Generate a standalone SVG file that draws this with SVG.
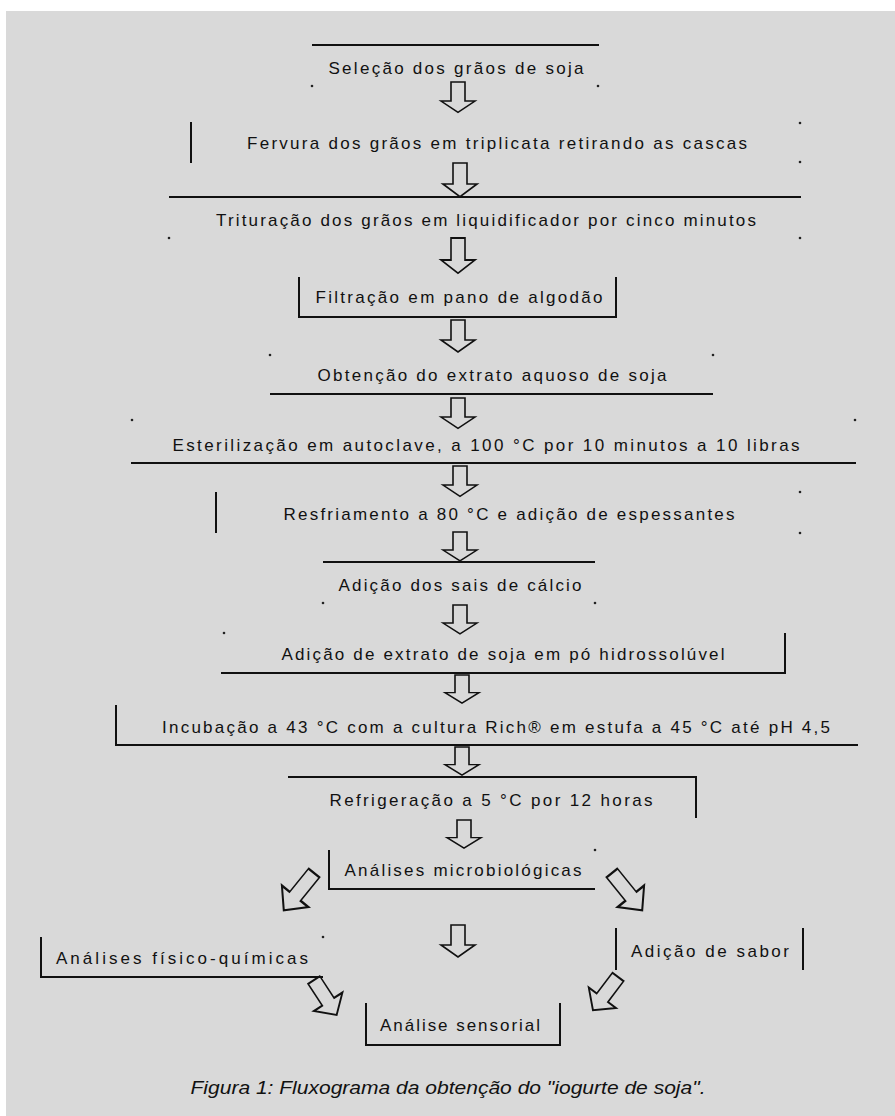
<svg xmlns="http://www.w3.org/2000/svg" xmlns:xlink="http://www.w3.org/1999/xlink" width="895" height="1116" viewBox="0 0 895 1116">
<style>
.t{font-family:"Liberation Sans",Arial,sans-serif;font-size:17px;fill:#111;text-anchor:middle;dominant-baseline:central}
.ln{stroke:#111;stroke-width:2;fill:none}
.ar{stroke:#111;stroke-width:1.6;fill:none;stroke-linejoin:miter}
.cap{font-family:"Liberation Sans",Arial,sans-serif;font-size:19px;font-style:italic;fill:#111;text-anchor:middle}
.d{fill:#222}
</style>
<defs>
<path id="dn" d="M-7,0 H7 V20 H17 L0,32 L-17,20 H-7 Z"/>
</defs>
<rect x="0" y="0" width="895" height="1116" fill="#ffffff"/>
<rect x="6" y="11" width="889" height="1105" fill="#d9d9d9"/>

<g id="n1"><line class="ln" x1="312" y1="45" x2="599" y2="45"/><text class="t" x="456" y="68" textLength="255" lengthAdjust="spacing">Seleção dos grãos de soja</text></g>
<g id="n2"><line class="ln" x1="191" y1="122" x2="191" y2="163"/><text class="t" x="497" y="143" textLength="500" lengthAdjust="spacing">Fervura dos grãos em triplicata retirando as cascas</text></g>
<g id="n3"><line class="ln" x1="169" y1="197" x2="801" y2="197"/><text class="t" x="486" y="220" textLength="540" lengthAdjust="spacing">Trituração dos grãos em liquidificador por cinco minutos</text></g>
<g id="n4"><path class="ln" d="M299,277 V317 H616 V277"/><text class="t" x="459" y="297" textLength="287" lengthAdjust="spacing">Filtração em pano de algodão</text></g>
<g id="n5"><line class="ln" x1="270" y1="394" x2="713" y2="394"/><text class="t" x="492" y="375" textLength="349" lengthAdjust="spacing">Obtenção do extrato aquoso de soja</text></g>
<g id="n6"><line class="ln" x1="131" y1="463" x2="856" y2="463"/><text class="t" x="486" y="445" textLength="627" lengthAdjust="spacing">Esterilização em autoclave, a 100 °C por 10 minutos a 10 libras</text></g>
<g id="n7"><line class="ln" x1="216" y1="492" x2="216" y2="533"/><text class="t" x="509" y="514" textLength="451" lengthAdjust="spacing">Resfriamento a 80 °C e adição de espessantes</text></g>
<g id="n8"><line class="ln" x1="323" y1="562" x2="595" y2="562"/><text class="t" x="460" y="585" textLength="243" lengthAdjust="spacing">Adição dos sais de cálcio</text></g>
<g id="n9"><path class="ln" d="M785,633 V673 H221"/><text class="t" x="503" y="654" textLength="443" lengthAdjust="spacing">Adição de extrato de soja em pó hidrossolúvel</text></g>
<g id="n10"><path class="ln" d="M116,705 V745 H858"/><text class="t" x="496" y="727" textLength="668" lengthAdjust="spacing">Incubação a 43 °C com a cultura Rich® em estufa a 45 °C até pH 4,5</text></g>
<g id="n11"><path class="ln" d="M288,777 H696 V818"/><text class="t" x="491" y="800" textLength="323" lengthAdjust="spacing">Refrigeração a 5 °C por 12 horas</text></g>
<g id="n12"><path class="ln" d="M329,850 V889 H595"/><text class="t" x="463" y="870" textLength="237" lengthAdjust="spacing">Análises microbiológicas</text></g>
<g id="n13"><path class="ln" d="M41,937 V977 H323"/><text class="t" x="182" y="958" textLength="252" lengthAdjust="spacing">Análises físico-químicas</text></g>
<g id="n14"><line class="ln" x1="616" y1="928" x2="616" y2="970"/><line class="ln" x1="803" y1="928" x2="803" y2="970"/><text class="t" x="710" y="951" textLength="158" lengthAdjust="spacing">Adição de sabor</text></g>
<g id="n15"><path class="ln" d="M366,1003 V1045 H560 V1003"/><text class="t" x="460" y="1025" textLength="160" lengthAdjust="spacing">Análise sensorial</text></g>

<g id="connectors">
<use class="ar" xlink:href="#dn" transform="translate(458,82) scale(1,0.95)"/>
<use class="ar" xlink:href="#dn" transform="translate(460,163) scale(1,1.05)"/>
<use class="ar" xlink:href="#dn" transform="translate(458,238) scale(1,1.1)"/>
<use class="ar" xlink:href="#dn" transform="translate(458,320) scale(1,1.0)"/>
<use class="ar" xlink:href="#dn" transform="translate(458,398) scale(1,0.95)"/>
<use class="ar" xlink:href="#dn" transform="translate(460,466) scale(1,0.95)"/>
<use class="ar" xlink:href="#dn" transform="translate(460,532) scale(1,0.9)"/>
<use class="ar" xlink:href="#dn" transform="translate(460,605) scale(1,0.9)"/>
<use class="ar" xlink:href="#dn" transform="translate(462,675) scale(1,0.88)"/>
<use class="ar" xlink:href="#dn" transform="translate(462,747) scale(1,0.88)"/>
<use class="ar" xlink:href="#dn" transform="translate(464,820) scale(1,0.88)"/>
<use class="ar" xlink:href="#dn" transform="translate(458,925) scale(1,1.0)"/>
<use class="ar" xlink:href="#dn" transform="translate(314,873) rotate(39) scale(1,1.5)"/>
<use class="ar" xlink:href="#dn" transform="translate(612,873) rotate(-39) scale(1,1.5)"/>
<use class="ar" xlink:href="#dn" transform="translate(314,980) rotate(-33) scale(1,1.3)"/>
<use class="ar" xlink:href="#dn" transform="translate(618,977) rotate(37) scale(1,1.3)"/>
</g>

<g id="dots">
<circle class="d" cx="312" cy="86" r="1.3"/><circle class="d" cx="598" cy="86" r="1.3"/>
<circle class="d" cx="800" cy="123" r="1.3"/><circle class="d" cx="800" cy="162" r="1.3"/>
<circle class="d" cx="169" cy="238" r="1.3"/><circle class="d" cx="800" cy="238" r="1.3"/>
<circle class="d" cx="270" cy="355" r="1.3"/><circle class="d" cx="713" cy="355" r="1.3"/>
<circle class="d" cx="132" cy="420" r="1.3"/><circle class="d" cx="855" cy="420" r="1.3"/>
<circle class="d" cx="800" cy="492" r="1.3"/><circle class="d" cx="800" cy="533" r="1.3"/>
<circle class="d" cx="323" cy="603" r="1.3"/><circle class="d" cx="595" cy="603" r="1.3"/>
<circle class="d" cx="224" cy="633" r="1.3"/>
<circle class="d" cx="595" cy="850" r="1.3"/>
<circle class="d" cx="323" cy="937" r="1.3"/>
</g>

<text class="cap" x="448" y="1094" textLength="515" lengthAdjust="spacingAndGlyphs">Figura 1: Fluxograma da obtenção do "iogurte de soja".</text>
</svg>
